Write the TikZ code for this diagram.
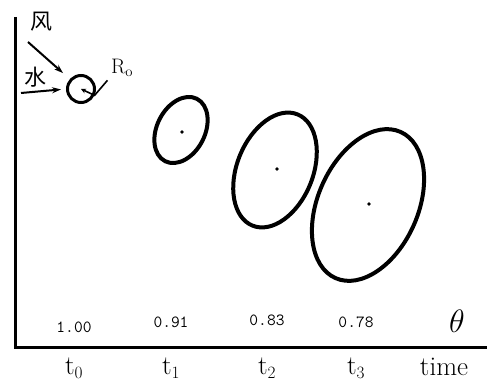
\documentclass[tikz,border=0pt]{standalone}
\usepackage{fontspec}
\newfontfamily\cjk{Noto Sans CJK SC}
\usetikzlibrary{arrows.meta}

\begin{document}
\begin{tikzpicture}[x=1pt,y=1pt,
  slick/.style={line width=4pt},
  drift/.style={line width=2pt, -{Stealth[length=9pt,width=6pt]}},
  ratio/.style={font=\fontsize{17}{19}\selectfont\ttfamily},
  tick label/.style={font=\fontsize{27}{29}\selectfont}]
\useasboundingbox (0,0) rectangle (487,383);
\def\axisx{15}
\def\axisy{36}
\def\timey{15}

% Axes
\coordinate (origin) at (\axisx,\axisy);
\coordinate (ytop) at (\axisx,366);
\coordinate (xend) at (487,\axisy);
\draw[line width=3pt] (ytop) -- (origin) -- (xend);

% Initial spill with radius
\node[circle, draw, line width=3pt, minimum size=27pt, inner sep=0pt]
  (spill0) at (81,294) {};
\node[font=\fontsize{21}{22}\selectfont] (radius) at (122,315) {R$_\mathrm{o}$};
\draw[line width=1.6pt, {Stealth[length=5pt,width=5pt]}-]
  (spill0.center) -- (spill0.-25) -- (radius.south west);

% Wind and current
\node[font=\cjk\fontsize{22}{24}\selectfont] (wind) at (41,361) {风};
\node[font=\cjk\fontsize{22}{24}\selectfont] (water) at (35,306) {水};
\coordinate (windtail) at (28,341);
\coordinate (watertail) at (21,290);
\draw[drift, shorten >=9pt] (windtail) -- (spill0);
\draw[drift, shorten >=5pt] (watertail) -- (spill0.west);

% Spreading slick
\draw[slick] (181,253) circle[x radius=35, y radius=24, rotate=63];
\draw[slick] (275,213) circle[x radius=60, y radius=38, rotate=68];
\draw[slick] (368,178) circle[x radius=80, y radius=50, rotate=66];
\foreach \c in {(182,251),(277,214),(369,179)}{
  \fill \c circle[radius=1.8pt];
}

% Ratios and times
\foreach \x/\t/\v/\vy in {74/0/1.00/56, 171/1/0.91/61, 267/2/0.83/63, 356/3/0.78/61}{
  \node[ratio] (ratio\t) at (\x,\vy) {\v};
  \node[tick label] (t\t) at (\x,\timey) {t$_\t$};
}
\node[font=\fontsize{24}{26}\selectfont] (theta) at (457,62) {\scalebox{1.3}{$\theta$}};
\node[font=\fontsize{27}{29}\selectfont] (time) at (444,16) {time};
\end{tikzpicture}
\end{document}
